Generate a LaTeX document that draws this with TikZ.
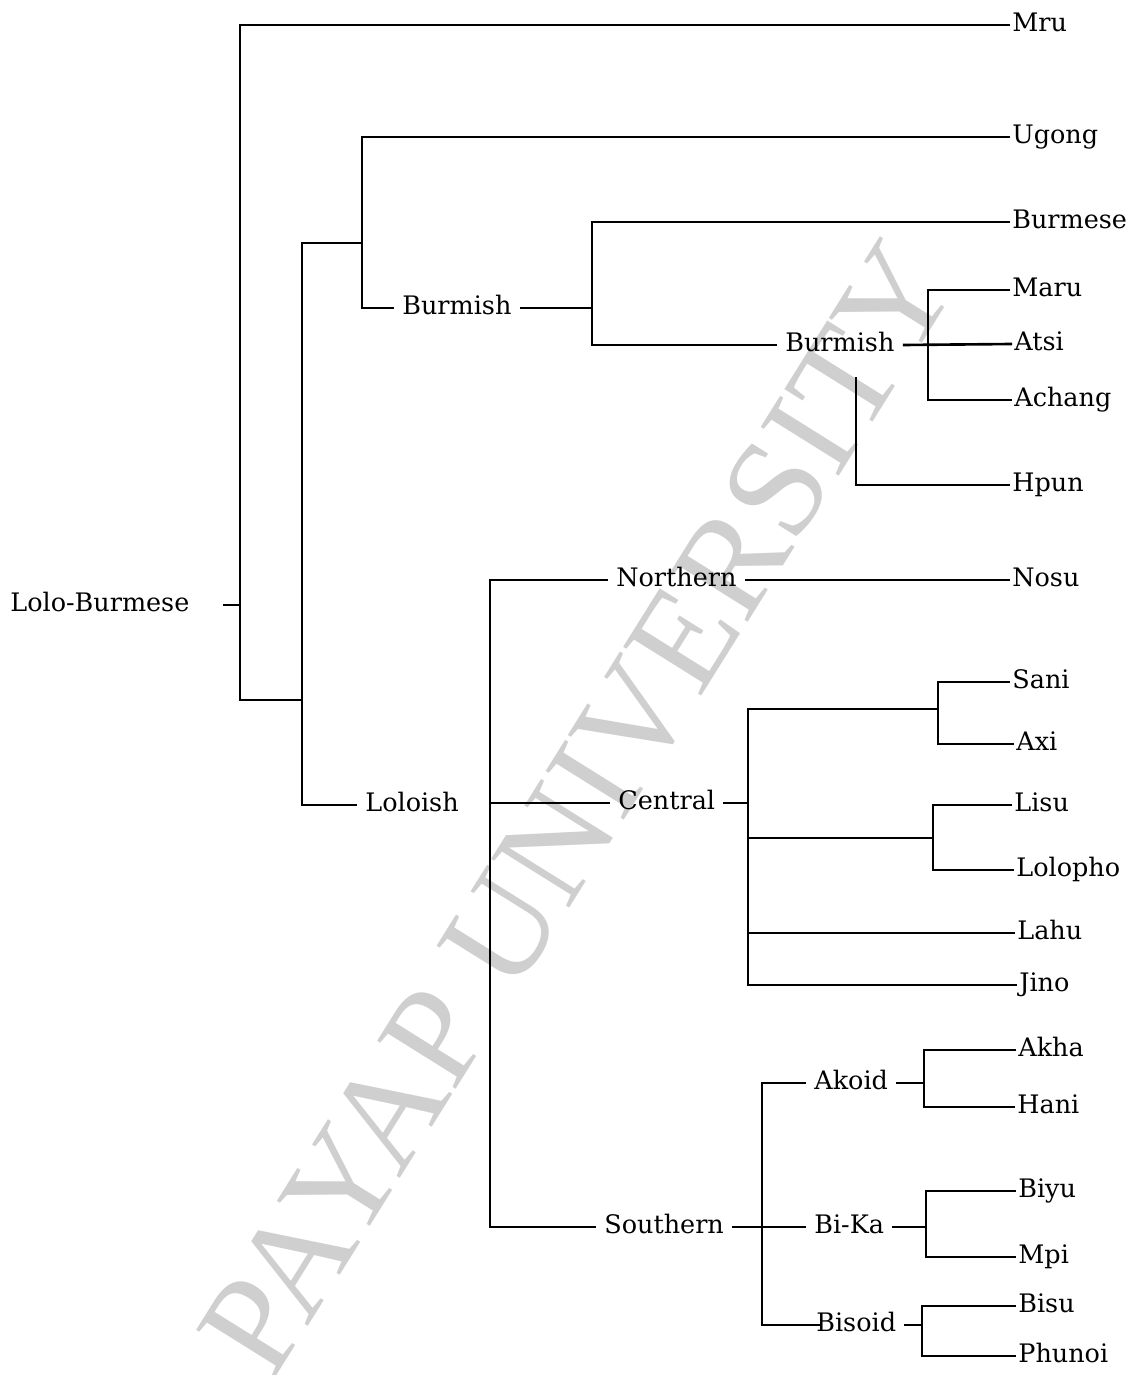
\documentclass[tikz,border=0pt]{standalone}
\usepackage{fontspec}
\setmainfont{DejaVu Serif}
\newfontfamily\wmfont{Liberation Serif}
\usepackage{tikz}

\tikzset{
	branch/.style = {line width=1.5pt, black},
	lang/.style   = {anchor=west, inner xsep=0.04cm, inner ysep=0pt,
	                 text height=1.4ex, text depth=0pt,
	                 font=\fontsize{14.5}{17}\selectfont},
	group/.style  = {lang, inner xsep=0.16cm},
	watermark/.style = {text=black!19, inner sep=0pt,
	                 font=\wmfont\fontsize{80}{90}\selectfont}
}

\begin{document}
\begin{tikzpicture}[x=0.02cm, y=-0.02cm]
				\useasboundingbox (0,0) rectangle (1142,1375);
				%\draw[help lines] (0,0) grid (1142,1375);
				\node[watermark, rotate=58] (wm) at (578,808) {PAYAP UNIVERSITY};
				
				% leaves
				\node[lang] (mru)     at (1010,25)   {Mru};
				\node[lang] (ugong)   at (1010,137)  {Ugong};
				\node[lang] (burmese) at (1010,222)  {Burmese};
				\node[lang] (maru)    at (1010,290)  {Maru};
				\node[lang] (atsi)    at (1012,344)  {Atsi};
				\node[lang] (achang)  at (1012,400)  {Achang};
				\node[lang] (hpun)    at (1010,485)  {Hpun};
				\node[lang] (nosu)    at (1010,580)  {Nosu};
				\node[lang] (sani)    at (1010,682)  {Sani};
				\node[lang] (axi)     at (1014,744)  {Axi};
				\node[lang] (lisu)    at (1012,805)  {Lisu};
				\node[lang] (lolopho) at (1014,870)  {Lolopho};
				\node[lang] (lahu)    at (1015,933)  {Lahu};
				\node[lang] (jino)    at (1017,985)  {Jino};
				\node[lang] (akha)    at (1016,1050) {Akha};
				\node[lang] (hani)    at (1015,1107) {Hani};
				\node[lang] (biyu)    at (1016,1191) {Biyu};
				\node[lang] (mpi)     at (1016,1257) {Mpi};
				\node[lang] (bisu)    at (1016,1306) {Bisu};
				\node[lang] (phunoi)  at (1016,1356) {Phunoi};
				
				% subgroups
				\node[group] (lb)     at (2,605)    {Lolo-Burmese};
				\node[group] (bmA)    at (394,308)  {Burmish};
				\node[group] (lol)    at (357,805)  {Loloish};
				\node[group] (bmB)    at (777,345)  {Burmish};
				\node[group] (north)  at (608,580)  {Northern};
				\node[group] (cent)   at (610,803)  {Central};
				\node[group] (south)  at (596,1227) {Southern};
				\node[group] (akoid)  at (806,1083) {Akoid};
				\node[group] (bika)   at (806,1227) {Bi-Ka};
				\node[group] (bisoid) at (808,1325) {Bisoid};
				
				% junctions
				\coordinate (r0) at (240,605);
				\coordinate (j1) at (302,700);
				\coordinate (j2) at (362,243);
				\coordinate (j3) at (592,308);
				\coordinate (j4) at (928,344);
				\coordinate (hp) at (856,377);
				\coordinate (j5) at (490,803);
				\coordinate (j6) at (748,803);
				\coordinate (j7) at (938,709);
				\coordinate (j8) at (933,838);
				\coordinate (j9) at (762,1227);
				\coordinate (ja) at (924,1083);
				\coordinate (jb) at (926,1227);
				\coordinate (jc) at (922,1325);
				
				\begin{scope}[branch]
				\draw[shorten <=0.5cm] (lb.east) -- (r0);
				\draw (mru.west) -| (r0) |- (j1);
				\draw (j2) -| (j1) |- (lol.west);
				\draw (ugong.west) -| (j2) |- (bmA.west);
				\draw (bmA.east) -- (j3);
				\draw (burmese.west) -| (j3) |- (bmB.west);
				\draw (bmB.east) -- (atsi.west);
				\draw (maru.west) -| (j4) |- (achang.west);
				\draw (hp) |- (hpun.west);
				
				\draw (north.west) -| (j5) |- (south.west);
				\draw (j5) -- (cent.west);
				\draw (north.east) -- (nosu.west);
				
				\draw (cent.east) -- (j6);
				\draw (j7) -| (j6) |- (jino.west);
				\draw (j6) |- (j8);
				\draw (lahu.west) -- (lahu.west -| j6);
				\draw (sani.west) -| (j7) |- (axi.west);
				\draw (lisu.west) -| (j8) |- (lolopho.west);
				
				\draw[shorten >=-0.24cm] (akoid.west) -| (j9) |- (bisoid.west);
				\draw (south.east) -- (bika.west);
				\draw (akoid.east) -- (ja);
				\draw (akha.west) -| (ja) |- (hani.west);
				\draw (bika.east) -- (jb);
				\draw (biyu.west) -| (jb) |- (mpi.west);
				\draw (bisoid.east) -- (jc);
				\draw (bisu.west) -| (jc) |- (phunoi.west);
				\end{scope}
\end{tikzpicture}
\end{document}
